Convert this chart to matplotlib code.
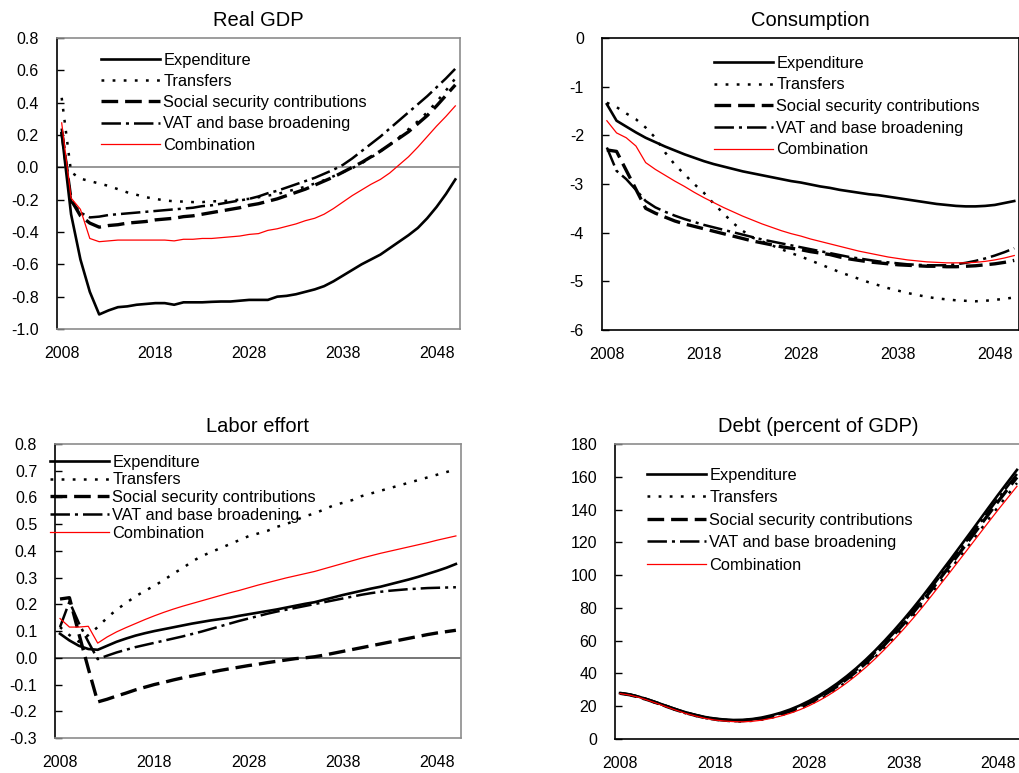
import matplotlib
matplotlib.use("Agg")
import matplotlib.pyplot as plt
from matplotlib.ticker import FormatStrFormatter

plt.rcParams['font.family'] = ['Liberation Sans', 'DejaVu Sans']
plt.rcParams['axes.unicode_minus'] = False
plt.rcParams['lines.scale_dashes'] = False

years = list(range(2008, 2051))
series_names = ["Expenditure", "Transfers", "Social security contributions",
                "VAT and base broadening", "Combination"]
xtick_years = [2008, 2018, 2028, 2038, 2048]

# ---- Real GDP ----
gdp_exp = [0.21, -0.29, -0.57, -0.77, -0.91, -0.885, -0.865, -0.86, -0.85, -0.845,
           -0.84, -0.84, -0.85, -0.835, -0.835, -0.835, -0.832, -0.83, -0.83, -0.825,
           -0.82, -0.82, -0.82, -0.80, -0.795, -0.785, -0.77, -0.755, -0.735, -0.705,
           -0.67, -0.635, -0.60, -0.57, -0.54, -0.50, -0.46, -0.42, -0.375, -0.315,
           -0.245, -0.165, -0.075]
gdp_tra = [0.43, -0.03, -0.07, -0.085, -0.10, -0.115, -0.135, -0.155, -0.17, -0.185,
           -0.195, -0.205, -0.21, -0.212, -0.215, -0.215, -0.21, -0.21, -0.205, -0.20,
           -0.195, -0.185, -0.175, -0.165, -0.15, -0.135, -0.12, -0.10, -0.08, -0.055,
           -0.03, -0.005, 0.025, 0.06, 0.10, 0.14, 0.185, 0.235, 0.285, 0.34,
           0.405, 0.475, 0.55]
gdp_ssc = [0.22, -0.20, -0.30, -0.345, -0.37, -0.36, -0.355, -0.345, -0.34, -0.335,
           -0.325, -0.32, -0.315, -0.305, -0.30, -0.29, -0.28, -0.27, -0.26, -0.25,
           -0.235, -0.225, -0.21, -0.195, -0.175, -0.155, -0.135, -0.11, -0.085, -0.06,
           -0.03, 0.0, 0.03, 0.065, 0.10, 0.14, 0.18, 0.22, 0.27, 0.32,
           0.38, 0.445, 0.51]
gdp_vat = [0.24, -0.21, -0.28, -0.31, -0.305, -0.295, -0.29, -0.285, -0.28, -0.275,
           -0.27, -0.265, -0.26, -0.255, -0.25, -0.24, -0.235, -0.225, -0.215, -0.205,
           -0.195, -0.18, -0.16, -0.145, -0.125, -0.105, -0.085, -0.065, -0.04, -0.015,
           0.015, 0.055, 0.10, 0.145, 0.19, 0.24, 0.29, 0.34, 0.39, 0.44,
           0.495, 0.55, 0.61]
gdp_com = [0.275, -0.19, -0.26, -0.44, -0.46, -0.455, -0.45, -0.45, -0.45, -0.45,
           -0.45, -0.45, -0.455, -0.445, -0.445, -0.44, -0.44, -0.435, -0.43, -0.425,
           -0.415, -0.41, -0.39, -0.38, -0.365, -0.35, -0.33, -0.315, -0.29, -0.255,
           -0.215, -0.175, -0.14, -0.105, -0.075, -0.035, 0.015, 0.065, 0.125, 0.19,
           0.255, 0.315, 0.38]

# ---- Consumption ----
con_exp = [-1.36, -1.70, -1.82, -1.94, -2.05, -2.14, -2.23, -2.31, -2.39, -2.46,
           -2.53, -2.59, -2.64, -2.69, -2.74, -2.78, -2.82, -2.86, -2.90, -2.94,
           -2.97, -3.01, -3.05, -3.08, -3.12, -3.15, -3.18, -3.21, -3.23, -3.26,
           -3.29, -3.32, -3.35, -3.38, -3.41, -3.43, -3.45, -3.46, -3.46, -3.45,
           -3.43, -3.39, -3.35]
con_tra = [-1.33, -1.42, -1.55, -1.67, -1.84, -2.05, -2.35, -2.60, -2.80, -3.00,
           -3.18, -3.40, -3.60, -3.80, -3.96, -4.10, -4.18, -4.26, -4.34, -4.42,
           -4.49, -4.57, -4.65, -4.73, -4.81, -4.88, -4.95, -5.02, -5.08, -5.14,
           -5.19, -5.24, -5.28, -5.32, -5.35, -5.37, -5.39, -5.40, -5.41, -5.40,
           -5.38, -5.36, -5.33]
con_ssc = [-2.30, -2.33, -2.72, -3.11, -3.50, -3.60, -3.68, -3.76, -3.82, -3.87,
           -3.92, -3.97, -4.02, -4.07, -4.12, -4.17, -4.21, -4.25, -4.29, -4.32,
           -4.35, -4.39, -4.42, -4.45, -4.50, -4.54, -4.57, -4.60, -4.62, -4.64,
           -4.66, -4.67, -4.68, -4.69, -4.69, -4.70, -4.70, -4.69, -4.68, -4.66,
           -4.64, -4.61, -4.57]
con_vat = [-2.25, -2.73, -2.90, -3.12, -3.35, -3.48, -3.57, -3.65, -3.72, -3.78,
           -3.84, -3.89, -3.94, -3.99, -4.04, -4.09, -4.14, -4.18, -4.22, -4.26,
           -4.30, -4.34, -4.38, -4.42, -4.46, -4.50, -4.53, -4.56, -4.59, -4.61,
           -4.63, -4.65, -4.66, -4.67, -4.67, -4.67, -4.65, -4.62, -4.58, -4.53,
           -4.47, -4.40, -4.32]
con_com = [-1.70, -1.95, -2.05, -2.22, -2.56, -2.70, -2.82, -2.94, -3.05, -3.17,
           -3.28, -3.38, -3.48, -3.57, -3.66, -3.74, -3.82, -3.89, -3.96, -4.02,
           -4.07, -4.13, -4.18, -4.23, -4.28, -4.33, -4.38, -4.42, -4.46, -4.50,
           -4.53, -4.56, -4.58, -4.60, -4.61, -4.62, -4.62, -4.62, -4.61, -4.59,
           -4.56, -4.52, -4.47]

# ---- Labor effort ----
lab_exp = [0.09, 0.065, 0.045, 0.033, 0.03, 0.045, 0.06, 0.072, 0.083, 0.092,
           0.10, 0.107, 0.114, 0.121, 0.128, 0.134, 0.14, 0.145, 0.15, 0.157,
           0.163, 0.169, 0.175, 0.181, 0.188, 0.195, 0.202, 0.208, 0.217, 0.226,
           0.235, 0.243, 0.251, 0.259, 0.266, 0.275, 0.284, 0.293, 0.303, 0.314,
           0.325, 0.337, 0.351]
lab_tra = [0.115, 0.085, 0.06, 0.085, 0.115, 0.15, 0.18, 0.205, 0.23, 0.25,
           0.27, 0.29, 0.315, 0.335, 0.36, 0.38, 0.395, 0.41, 0.425, 0.44,
           0.455, 0.465, 0.475, 0.49, 0.50, 0.515, 0.53, 0.54, 0.555, 0.57,
           0.58, 0.59, 0.605, 0.615, 0.625, 0.635, 0.645, 0.655, 0.665, 0.675,
           0.685, 0.695, 0.705]
lab_ssc = [0.22, 0.225, 0.09, -0.04, -0.165, -0.155, -0.143, -0.132, -0.12, -0.11,
           -0.10, -0.092, -0.083, -0.075, -0.068, -0.061, -0.054, -0.047, -0.041, -0.035,
           -0.029, -0.024, -0.018, -0.013, -0.008, -0.003, 0.0, 0.004, 0.01, 0.017,
           0.024, 0.031, 0.038, 0.045, 0.052, 0.059, 0.066, 0.073, 0.08, 0.087,
           0.093, 0.098, 0.103]
lab_vat = [0.115, 0.21, 0.13, 0.06, -0.005, 0.008, 0.02, 0.03, 0.04, 0.048,
           0.056, 0.064, 0.072, 0.08, 0.089, 0.098, 0.108, 0.118, 0.128, 0.138,
           0.147, 0.156, 0.165, 0.173, 0.18, 0.187, 0.194, 0.201, 0.208, 0.215,
           0.222, 0.229, 0.236, 0.242, 0.247, 0.251, 0.254, 0.257, 0.259, 0.261,
           0.262, 0.263, 0.264]
lab_com = [0.147, 0.115, 0.115, 0.118, 0.055, 0.078, 0.097, 0.113, 0.128, 0.143,
           0.157, 0.17, 0.182, 0.193, 0.203, 0.213, 0.223, 0.233, 0.243, 0.252,
           0.262, 0.272, 0.281, 0.29, 0.299, 0.307, 0.315, 0.323, 0.333, 0.343,
           0.353, 0.363, 0.373, 0.382, 0.391, 0.399, 0.407, 0.415, 0.423, 0.431,
           0.44, 0.448, 0.456]

# ---- Debt (percent of GDP) ----
debt_exp = [28.0, 27.2, 25.8, 24.0, 22.0, 20.0, 18.0, 16.2, 14.7, 13.4,
            12.5, 11.9, 11.6, 11.7, 12.2, 13.1, 14.4, 16.0, 18.0, 20.4,
            23.2, 26.4, 30.0, 34.0, 38.4, 43.2, 48.4, 54.0, 60.0, 66.3,
            72.9, 79.8, 87.0, 94.5, 102.2, 109.8, 117.6, 125.4, 133.3, 141.2,
            149.0, 156.6, 164.2]
debt_tra = [27.8, 26.9, 25.5, 23.6, 21.6, 19.5, 17.5, 15.6, 14.1, 12.8,
            11.8, 11.2, 10.8, 10.7, 11.1, 11.8, 13.0, 14.4, 16.2, 18.3,
            20.9, 23.8, 27.2, 31.0, 35.1, 39.7, 44.6, 50.0, 55.8, 61.8,
            68.2, 74.8, 81.8, 89.1, 96.5, 103.9, 111.4, 119.0, 126.6, 134.2,
            141.6, 148.9, 156.2]
debt_ssc = [27.9, 27.0, 25.6, 23.8, 21.8, 19.7, 17.7, 15.9, 14.4, 13.0,
            12.1, 11.5, 11.1, 11.2, 11.6, 12.4, 13.6, 15.1, 17.0, 19.2,
            21.9, 25.0, 28.4, 32.3, 36.6, 41.2, 46.3, 51.8, 57.6, 63.8,
            70.2, 77.0, 84.1, 91.4, 99.0, 106.5, 114.1, 121.8, 129.5, 137.2,
            144.9, 152.3, 159.7]
debt_vat = [27.9, 27.1, 25.7, 23.9, 21.9, 19.9, 17.9, 16.0, 14.5, 13.2,
            12.3, 11.7, 11.4, 11.4, 11.9, 12.7, 14.0, 15.5, 17.4, 19.8,
            22.5, 25.6, 29.1, 33.0, 37.4, 42.1, 47.2, 52.8, 58.7, 64.9,
            71.4, 78.2, 85.4, 92.8, 100.4, 108.0, 115.7, 123.4, 131.2, 139.0,
            146.7, 154.2, 161.7]
debt_com = [27.7, 26.8, 25.4, 23.5, 21.5, 19.4, 17.4, 15.5, 14.0, 12.6,
            11.6, 11.0, 10.6, 10.5, 10.8, 11.5, 12.6, 14.0, 15.7, 17.8,
            20.3, 23.2, 26.5, 30.2, 34.3, 38.8, 43.7, 49.0, 54.7, 60.7,
            67.0, 73.6, 80.5, 87.7, 95.1, 102.4, 109.9, 117.4, 124.9, 132.4,
            139.8, 147.0, 154.2]

# line appearance for each scenario (dash patterns in points)
styles = [
    dict(color="black", lw=1.9, ls="-"),
    dict(color="black", lw=1.8, ls=(0, (2.0, 6.0))),
    dict(color="black", lw=2.4, ls=(0, (12.0, 5.0))),
    dict(color="black", lw=1.8, ls=(0, (14.0, 3.6, 2.2, 3.6))),
    dict(color="red", lw=0.9, ls="-"),
]

GREY = "#8c8c8c"
FS_TICK = 11.5
FS_LEG = 11.8
FS_TITLE = 14.5

fig = plt.figure(figsize=(10.19, 7.73), dpi=100)


def make_panel(rect, title, data, ylim, yticks, yfmt, spine_cols, zero_col,
               leg_anchor, leg_spacing):
    ax = fig.add_axes(rect)
    for vals, st, name in zip(data, styles, series_names):
        ax.plot(years, vals, color=st["color"], lw=st["lw"], linestyle=st["ls"],
                label=name, dash_capstyle="butt", solid_joinstyle="round", zorder=3)
    if zero_col is not None:
        ax.axhline(0, color=zero_col, lw=1.1, zorder=1)
    ax.set_xlim(2007.5, 2050.5)
    ax.set_ylim(*ylim)
    ax.set_yticks(yticks)
    ax.yaxis.set_major_formatter(FormatStrFormatter(yfmt))
    ax.set_xticks(xtick_years)
    ax.set_xticklabels([str(y) for y in xtick_years])
    ax.tick_params(axis="y", direction="in", length=5, width=1.0, pad=13,
                   labelsize=FS_TICK, color="black")
    ax.tick_params(axis="x", length=0, pad=12.5, labelsize=FS_TICK)
    for side, col in spine_cols.items():
        ax.spines[side].set_color(col)
        ax.spines[side].set_linewidth(1.2)
    ax.set_title(title, fontsize=FS_TITLE, pad=8.5)
    ax.legend(loc="upper left", bbox_to_anchor=leg_anchor, borderaxespad=0,
              borderpad=0, fontsize=FS_LEG, handlelength=3.6,
              handletextpad=0.2, labelspacing=leg_spacing, frameon=False)
    return ax


make_panel([0.05594, 0.57439, 0.39549, 0.37646], "Real GDP",
           [gdp_exp, gdp_tra, gdp_ssc, gdp_vat, gdp_com],
           (-1.0, 0.8), [-1.0, -0.8, -0.6, -0.4, -0.2, 0.0, 0.2, 0.4, 0.6, 0.8], "%.1f",
           {"left": "black", "right": GREY, "top": GREY, "bottom": GREY}, "#7a7a7a",
           (0.109, 0.950), 0.385)

make_panel([0.59078, 0.57309, 0.40932, 0.37775], "Consumption",
           [con_exp, con_tra, con_ssc, con_vat, con_com],
           (-6, 0), [-6, -5, -4, -3, -2, -1, 0], "%d",
           {"left": "black", "right": "black", "top": "black", "bottom": "black"}, None,
           (0.2686, 0.940), 0.41)

make_panel([0.05427, 0.04528, 0.39774, 0.38034], "Labor effort",
           [lab_exp, lab_tra, lab_ssc, lab_vat, lab_com],
           (-0.3, 0.8), [-0.3, -0.2, -0.1, 0.0, 0.1, 0.2, 0.3, 0.4, 0.5, 0.6, 0.7, 0.8], "%.1f",
           {"left": "black", "right": GREY, "top": GREY, "bottom": GREY}, "#505050",
           (-0.013, 0.964), 0.168)

make_panel([0.60383, 0.04398, 0.39882, 0.38163], "Debt (percent of GDP)",
           [debt_exp, debt_tra, debt_ssc, debt_vat, debt_com],
           (0, 180), list(range(0, 181, 20)), "%d",
           {"left": "black", "right": GREY, "top": GREY, "bottom": "black"}, None,
           (0.078, 0.920), 0.457)

fig.savefig("out.png", dpi=100)
